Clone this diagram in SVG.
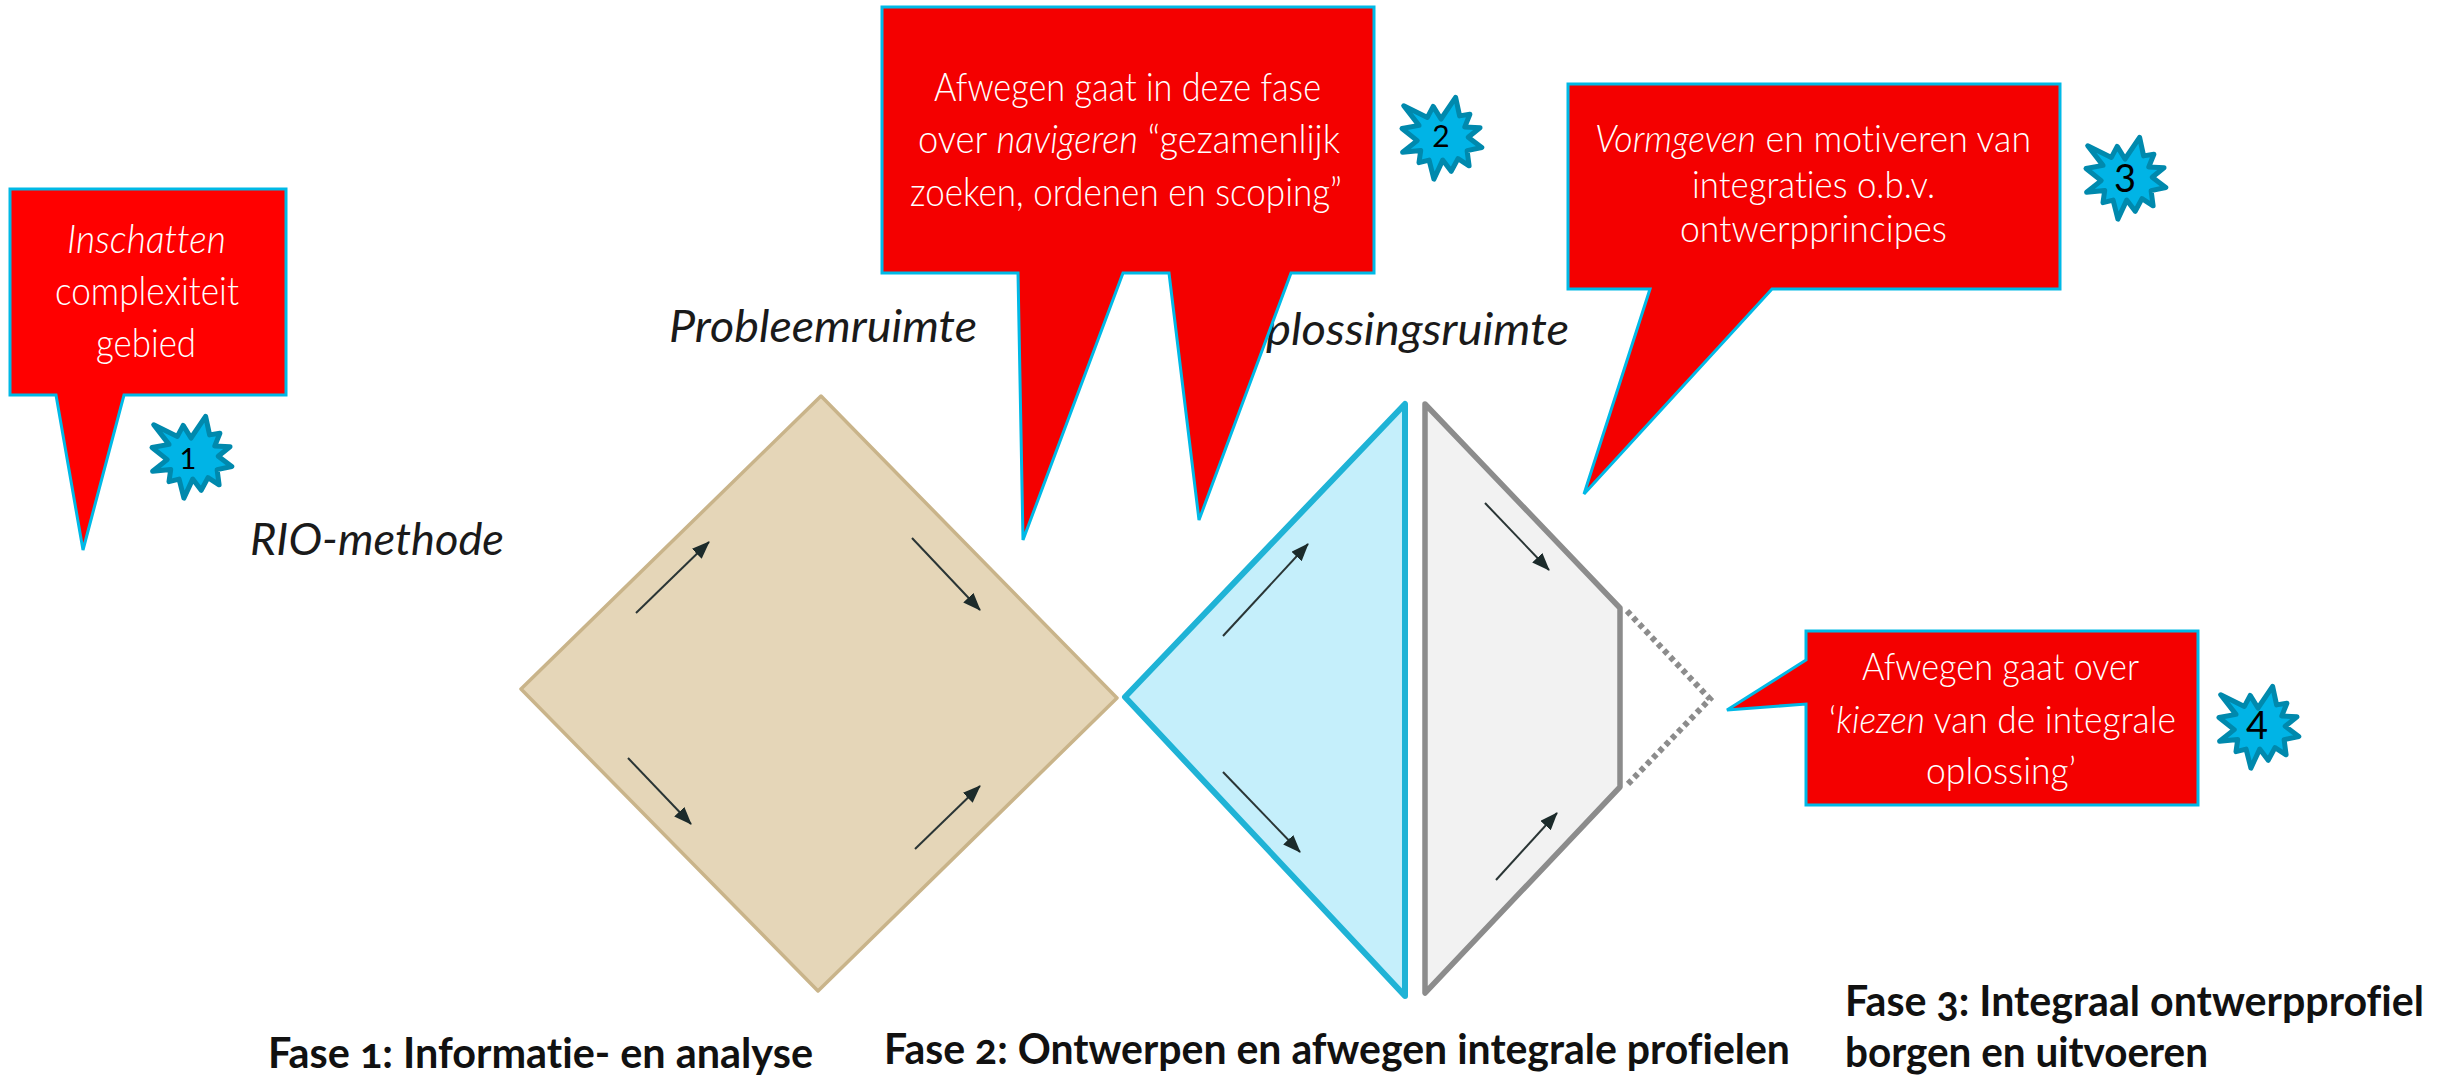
<svg xmlns="http://www.w3.org/2000/svg" width="2456" height="1077" viewBox="0 0 2456 1077">
<style>
text{font-family:"Lato","Open Sans","Liberation Sans",sans-serif;font-variant-ligatures:none}
.call{fill:#f40000;stroke:#00b9e6;stroke-width:3;stroke-linejoin:miter}
.ct{fill:#fff;font-weight:300;font-size:40px}
.ct3{fill:#fff;font-weight:300;font-size:37px}
.ct4{fill:#fff;font-weight:300;font-size:38px}
.it{font-style:italic}
.lab{fill:#1a1a1a;font-style:italic;font-size:44px;font-weight:400}
.fase{fill:#111;font-weight:700;font-size:42px;font-variant-numeric:oldstyle-nums}
.star{fill:#00b4e6;stroke:#0089ad;stroke-width:5;stroke-linejoin:round}
.num{fill:#000;text-anchor:middle;font-weight:400}
.arr{stroke:#2a3535;stroke-width:2;fill:none;marker-end:url(#head)}
</style>
<defs>
<marker id="head" markerUnits="userSpaceOnUse" markerWidth="18" markerHeight="14" refX="17" refY="7" orient="auto"><path d="M0 0L18 7L0 14Z" fill="#1c2b2b"/></marker>
<polygon id="burst" points="14.6,-40.6 18.6,-22.1 28.9,-23.8 23.8,-11.1 39,-10.2 27.2,-.7 40.8,9.5 26.1,12.6 28.1,27.8 17,20.6 10.2,33.3 1.7,22.1 -7.1,41.1 -11.9,22.1 -22,24.7 -20.3,12.6 -38.4,14.3 -23.8,2.6 -39,-9.5 -22,-12.6 -37.3,-32.3 -13.6,-20.6 -7.8,-31.6 0,-19"/>
</defs>
<rect width="2456" height="1077" fill="#fff"/>
<g id="node-diamond">
<polygon points="821,396 1117,698 818,991 521,689" fill="#e5d6b8" stroke="#c9b48a" stroke-width="3.5" stroke-linejoin="round"/>
</g>
<g id="node-blue-triangle">
<polygon points="1405,404 1405,996 1125,697" fill="#c5effb" stroke="#1fb3d6" stroke-width="6" stroke-linejoin="round"/>
</g>
<g id="node-grey-shape">
<polygon points="1425,404 1620,608 1620,787 1425,993" fill="#f2f2f2" stroke="#8c8c8c" stroke-width="5.5" stroke-linejoin="round"/>
<polyline points="1627,611 1710,699 1627,785" fill="none" stroke="#8c8c8c" stroke-width="6" stroke-dasharray="5 4"/>
</g>
<g id="connectors">
<line class="arr" x1="636" y1="613" x2="709" y2="542"/>
<line class="arr" x1="912" y1="538" x2="980" y2="610"/>
<line class="arr" x1="628" y1="758" x2="691" y2="824"/>
<line class="arr" x1="915" y1="849" x2="980" y2="786"/>
<line class="arr" x1="1223" y1="636" x2="1308" y2="544"/>
<line class="arr" x1="1223" y1="772" x2="1300" y2="852"/>
<line class="arr" x1="1485" y1="503" x2="1549" y2="570"/>
<line class="arr" x1="1496" y1="880" x2="1557" y2="813"/>
</g>
<g id="labels">
<text class="lab" x="669" y="342" textLength="308" lengthAdjust="spacingAndGlyphs">Probleemruimte</text>
<text class="lab" x="1266" y="345" textLength="303" lengthAdjust="spacingAndGlyphs">plossingsruimte</text>
<text class="lab" x="250" y="555" textLength="254" lengthAdjust="spacingAndGlyphs">RIO-methode</text>
<text class="fase" x="268" y="1068" textLength="545" lengthAdjust="spacingAndGlyphs">Fase 1: Informatie- en analyse</text>
<text class="fase" x="884" y="1064" textLength="906" lengthAdjust="spacingAndGlyphs">Fase 2: Ontwerpen en afwegen integrale profielen</text>
<text class="fase" x="1845" y="1016" textLength="579" lengthAdjust="spacingAndGlyphs">Fase 3: Integraal ontwerpprofiel</text>
<text class="fase" x="1845" y="1067" textLength="363" lengthAdjust="spacingAndGlyphs">borgen en uitvoeren</text>
</g>
<g id="node-callout-1">
<path class="call" style="fill:#ff0000" d="M10 189H286V395H124L83 550L56 395H10Z"/>
<text class="ct" x="67" y="253" textLength="159" lengthAdjust="spacingAndGlyphs"><tspan class="it">Inschatten</tspan></text>
<text class="ct" x="55" y="305" textLength="184" lengthAdjust="spacingAndGlyphs">complexiteit</text>
<text class="ct" x="96" y="357" textLength="100" lengthAdjust="spacingAndGlyphs">gebied</text>
</g>
<g id="node-star-1"><use href="#burst" class="star" x="191" y="457"/><text class="num" x="188" y="469" font-size="29">1</text></g>
<g id="node-callout-2">
<path class="call" d="M882 7H1374V273H1291L1199 520L1169 273H1123L1023 540L1018 273H882Z"/>
<text class="ct" x="934" y="101" textLength="387" lengthAdjust="spacingAndGlyphs">Afwegen gaat in deze fase</text>
<text class="ct" x="918" y="153" textLength="422" lengthAdjust="spacingAndGlyphs">over <tspan class="it">navigeren</tspan> “gezamenlijk</text>
<text class="ct" x="910" y="206" textLength="432" lengthAdjust="spacingAndGlyphs">zoeken, ordenen en scoping”</text>
</g>
<g id="node-star-2"><use href="#burst" class="star" x="1441" y="138"/><text class="num" x="1441" y="147" font-size="30">2</text></g>
<g id="node-callout-3">
<path class="call" d="M1568 84H2060V289H1772L1584 494L1650 289H1568Z"/>
<text class="ct3" x="1595" y="152" textLength="436" lengthAdjust="spacingAndGlyphs"><tspan class="it">Vormgeven</tspan> en motiveren van</text>
<text class="ct3" x="1692" y="198" textLength="243" lengthAdjust="spacingAndGlyphs">integraties o.b.v.</text>
<text class="ct3" x="1680" y="242" textLength="267" lengthAdjust="spacingAndGlyphs">ontwerpprincipes</text>
</g>
<g id="node-star-3"><use href="#burst" class="star" x="2125" y="178"/><text class="num" x="2125" y="192" font-size="38">3</text></g>
<g id="node-callout-4">
<path class="call" d="M1806 631H2198V805H1806V704L1727 710L1806 660Z"/>
<text class="ct4" x="1862" y="680" textLength="277" lengthAdjust="spacingAndGlyphs">Afwegen gaat over</text>
<text class="ct4" x="1829" y="733" textLength="347" lengthAdjust="spacingAndGlyphs">‘<tspan class="it">kiezen</tspan> van de integrale</text>
<text class="ct4" x="1926" y="784" textLength="150" lengthAdjust="spacingAndGlyphs">oplossing’</text>
</g>
<g id="node-star-4"><use href="#burst" class="star" x="2258" y="727"/><text class="num" x="2257" y="739" font-size="38">4</text></g>
</svg>
